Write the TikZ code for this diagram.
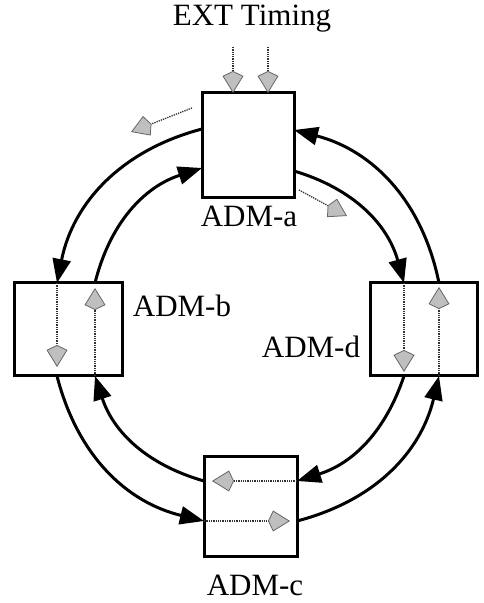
\documentclass[tikz,border=0pt]{standalone}
\usepackage{fontspec}
\setmainfont{Liberation Serif}
\usetikzlibrary{arrows.meta}
\begin{document}
\begin{tikzpicture}[x=1pt,y=1pt,
  adm/.style={draw, line width=3pt, inner sep=0pt},
  ring/.style={line width=3pt, -{Triangle[length=24pt,width=18pt]}},
  sig/.style={line width=1.3pt, densely dotted, black!80,
    -{Kite[length=22pt,width=21pt,inset=5pt,fill=gray!50,color=black!60,line width=0.8pt]}},
  lbl/.style={font=\fontsize{31}{36}\selectfont, inner sep=0pt, anchor=base}]
\useasboundingbox (0,0) rectangle (483,603);
% boxes
\node[adm, minimum width=92pt, minimum height=105pt] (a) at (248,457.5) {};
\node[adm, minimum width=108pt, minimum height=93pt] (b) at (68,273.5) {};
\node[adm, minimum width=107pt, minimum height=93pt] (d) at (423.5,273.5) {};
\node[adm, minimum width=93pt, minimum height=100pt] (c) at (250.5,96) {};
% labels
\node[lbl] (ext) at (252,577) {EXT Timing};
\node[lbl] (la) at (249,376) {ADM-a};
\node[lbl] (lb) at (182,286) {ADM-b};
\node[lbl] (ld) at (311,245) {ADM-d};
\node[lbl] (lc) at (255,7) {ADM-c};
% points on box borders
\coordinate (aLo) at (202,474); \coordinate (aLi) at (202,435);
\coordinate (aRo) at (294,473); \coordinate (aRi) at (294,432);
\coordinate (aT1) at (233,510); \coordinate (aT2) at (268,510);
\coordinate (bTo) at (57,320);  \coordinate (bTi) at (95,320);
\coordinate (bBo) at (57,227);  \coordinate (bBi) at (95,227);
\coordinate (dTi) at (404,320); \coordinate (dTo) at (439,320);
\coordinate (dBi) at (404,227); \coordinate (dBo) at (439,227);
\coordinate (cLi) at (204,122); \coordinate (cLo) at (204,82);
\coordinate (cRi) at (297,122); \coordinate (cRo) at (297,82);
% free ends of signal arrows
\coordinate (bDn) at (57,236);  \coordinate (bUp) at (95,315);
\coordinate (dDn) at (404,231); \coordinate (dUp) at (439,316);
\coordinate (cLt) at (212,122); \coordinate (cRt) at (290,82);
\coordinate (e1) at (233,556);  \coordinate (e2) at (268,556);
\coordinate (oL0) at (192,495); \coordinate (oL1) at (131,471);
\coordinate (oR0) at (299,413); \coordinate (oR1) at (347,387);
% ring
\draw[ring] (aLo) to[bend right=32] (bTo);
\draw[ring] (bTi) to[bend left=29] (aLi);
\draw[ring] (dTo) to[bend right=32] (aRo);
\draw[ring] (aRi) to[bend left=29] (dTi);
\draw[ring] (bBo) to[bend right=31] (cLo);
\draw[ring] (cLi) to[bend left=28] (bBi);
\draw[ring] (dBi) to[bend left=27] (cRi);
\draw[ring] (cRo) to[bend right=31] (dBo);
% signal paths
\draw[sig] (bTo) -- (bDn);
\draw[sig] (bBi) -- (bUp);
\draw[sig] (dTi) -- (dDn);
\draw[sig] (dBo) -- (dUp);
\draw[sig] (cRi) -- (cLt);
\draw[sig] (cLo) -- (cRt);
\draw[sig] (e1) -- (aT1);
\draw[sig] (e2) -- (aT2);
\draw[sig] (oL0) -- (oL1);
\draw[sig] (oR0) -- (oR1);
\end{tikzpicture}
\end{document}
